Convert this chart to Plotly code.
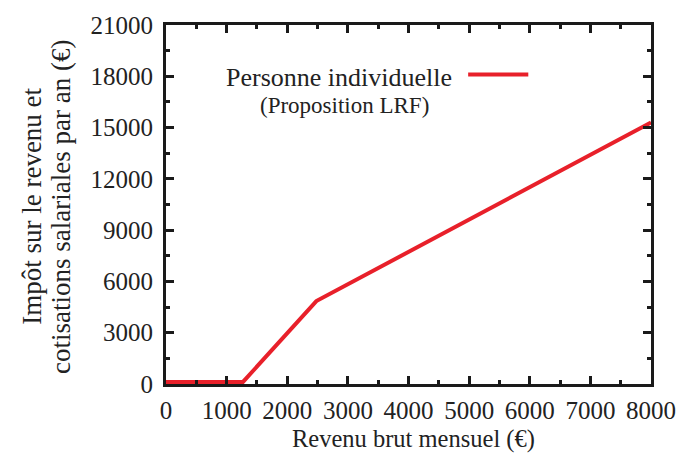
import plotly.graph_objects as go

revenu = [0, 1270, 2480, 8000]
impot = [120, 120, 4850, 15300]
x_ticks = [0, 1000, 2000, 3000, 4000, 5000, 6000, 7000, 8000]
y_ticks = [0, 3000, 6000, 9000, 12000, 15000, 18000, 21000]

FONT = "Liberation Serif"
TXT = "#222"
fig = go.Figure()
fig.add_trace(go.Scatter(x=revenu, y=impot, mode="lines",
                         line=dict(color="#e8202a", width=4), showlegend=False,
                         cliponaxis=False))

axis_common = dict(showgrid=False, zeroline=False, showline=True, linecolor="#1a1a1a",
                   linewidth=3, mirror="allticks", ticks="inside", ticklen=8, tickwidth=3,
                   tickcolor="#1a1a1a", tickfont=dict(family=FONT, size=25, color=TXT))
fig.update_xaxes(range=[0, 8000], tickvals=x_ticks, ticktext=[str(v) for v in x_ticks],
                 minor=dict(ticks="inside", ticklen=4, tickwidth=3, dtick=500, tickcolor="#1a1a1a"),
                 ticklabelstandoff=2, **axis_common)
fig.update_yaxes(range=[0, 21000], tickvals=y_ticks, ticktext=[str(v) for v in y_ticks],
                 minor=dict(ticks="inside", ticklen=4, tickwidth=3, dtick=1500, tickcolor="#1a1a1a"),
                 ticklabelstandoff=5, **axis_common)

fig.update_layout(width=688, height=453, margin=dict(l=166, r=29, t=21, b=69),
                  plot_bgcolor="white", paper_bgcolor="white",
                  font=dict(family=FONT, color=TXT))

def ann(text, x, y, size=25, xanchor="center", angle=0):
    fig.add_annotation(text=text, xref="paper", yref="paper", x=x, y=y,
                       xanchor=xanchor, yanchor="middle", textangle=angle, showarrow=False,
                       font=dict(family=FONT, size=size, color=TXT))

ann("Revenu brut mensuel (€)", 0.511, -0.152, size=24.5)
ann("Impôt sur le revenu et", -0.278, 0.494, size=27, angle=-90)
ann("cotisations salariales par an (€)", -0.218, 0.494, size=27, angle=-90)
ann("Personne individuelle", 0.593, 0.854, size=26, xanchor="right")
ann("(Proposition LRF)", 0.369, 0.776, size=23)
fig.add_shape(type="line", xref="paper", yref="paper", x0=0.623, x1=0.747, y0=0.862, y1=0.862,
              line=dict(color="#e8202a", width=4))

fig.write_html("out.html", config={"displayModeBar": False},
               post_script="document.body.style.margin='0';")
